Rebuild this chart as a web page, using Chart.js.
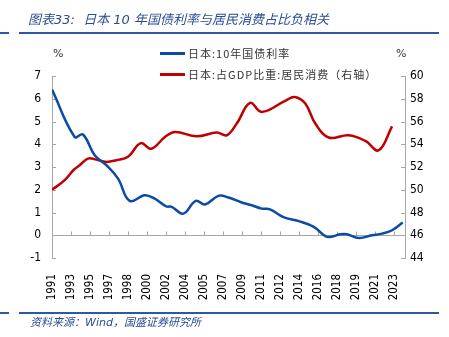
<!DOCTYPE html>
<html>
<head>
<meta charset="utf-8">
<script src="https://cdn.jsdelivr.net/npm/chart.js@4.4.1/dist/chart.umd.min.js"></script>
<style>
  body { margin: 0; background: #fff; }
  #wrap { position: relative; width: 449px; height: 337px; overflow: hidden; font-family: "DejaVu Sans", "Noto Sans CJK SC", sans-serif; }
  #chart { position: absolute; left: 0; top: 0; }
  .rule { position: absolute; height: 2px; background: #2f58a4; }
  .title { position: absolute; left: 28px; top: 11px; line-height: 18px; font-size: 13px; font-style: italic; color: #2b4c94; white-space: nowrap; }
  .source { position: absolute; left: 30px; top: 314px; line-height: 18px; font-size: 11px; font-style: italic; color: #2b4c94; white-space: nowrap; }
  .lg { position: absolute; left: 160px; width: 190px; height: 16px; }
  .lg .ln { position: absolute; left: 0; top: 7px; width: 25px; height: 3px; }
  .lg .tx { position: absolute; left: 28px; top: 0; line-height: 16px; font-size: 11px; letter-spacing: 1px; color: #333; white-space: nowrap; font-family: "Noto Sans CJK SC", "DejaVu Sans", sans-serif; }
  .unit { position: absolute; top: 46px; font-size: 11px; line-height: 16px; color: #333; }
</style>
</head>
<body>
<div id="wrap">
  <canvas id="chart" width="449" height="337"></canvas>
  <div class="title">图表33:&nbsp; 日本 10 年国债利率与居民消费占比负相关</div>
  <div class="rule" style="left:0;width:9px;top:32px"></div>
  <div class="rule" style="left:19px;width:420px;top:32px"></div>
  <div class="lg" style="top:45px"><div class="ln" style="background:#0b4ba5"></div><div class="tx">日本:10年国债利率</div></div>
  <div class="lg" style="top:66px;width:260px"><div class="ln" style="background:#c00000"></div><div class="tx">日本:占GDP比重:居民消费（右轴）</div></div>
  <div class="unit" style="left:53px">%</div>
  <div class="unit" style="left:396px">%</div>
  <div class="rule" style="left:0;width:9px;top:312px"></div>
  <div class="rule" style="left:19px;width:420px;top:312px"></div>
  <div class="source">资料来源：Wind，国盛证券研究所</div>
</div>
<script>
// x tick labels (one every 21 months, Excel style)
const xLabels = ['1991', '1993', '1995', '1997', '1998', '2000', '2002', '2004', '2005', '2007',
                 '2009', '2011', '2012', '2014', '2016', '2018', '2019', '2021', '2023'];
const xStart = 1991.75;
const xStep = 1.75;
const xEnd = 2024.25;

// Japan 10y government bond yield, %
const bondYears = [1991.75, 1993.84, 1994.6, 1995.68, 1996.75, 1997.83, 1998.9, 2000.29, 2001.21, 2002.27,
                   2002.77, 2003.84, 2004.98, 2005.84, 2007.06, 2007.98, 2009.22, 2010.14, 2011.06, 2011.82,
                   2013.05, 2014.47, 2015.85, 2017.07, 2018.3, 2018.91, 2019.99, 2021.22, 2022.14, 2023.06, 2024.04];
const bondYield = [6.40, 4.32, 4.43, 3.52, 3.08, 2.49, 1.51, 1.76, 1.61, 1.27,
                   1.25, 0.95, 1.51, 1.35, 1.73, 1.66, 1.44, 1.32, 1.17, 1.14,
                   0.80, 0.62, 0.37, -0.07, 0.04, 0.04, -0.12, 0.00, 0.07, 0.22, 0.56];

// Japan household consumption share of GDP, % (right axis)
const consYears = [1991.75, 1992.92, 1993.78, 1994.3, 1995.06, 1995.83, 1996.75, 1997.67, 1998.75, 1999.92,
                   2000.89, 2002.15, 2003.08, 2005.07, 2006.92, 2007.84, 2008.76, 2009.98, 2011.06, 2013.21,
                   2014.1, 2015.07, 2015.99, 2017.22, 2019.07, 2020.6, 2021.83, 2023.06];
const consShare = [50.0, 50.84, 51.78, 52.15, 52.74, 52.65, 52.45, 52.6, 52.9, 54.1,
                   53.6, 54.64, 55.08, 54.7, 55.03, 54.79, 55.82, 57.63, 56.84, 57.81,
                   58.16, 57.58, 55.82, 54.59, 54.79, 54.29, 53.47, 55.58];

const axisColor = '#a6a6a6';
const tickFont = { family: 'DejaVu Sans Condensed', size: 12 };

// zero line and inward tick marks
const axisMarks = {
    id: 'axisMarks',
    beforeDatasetsDraw(chart) {
        const ctx = chart.ctx;
        const x = chart.scales.x, yl = chart.scales.y, yr = chart.scales.y1;
        const zero = Math.round(yl.getPixelForValue(0)) + 0.5;
        ctx.save();
        ctx.strokeStyle = axisColor;
        ctx.lineWidth = 1;
        ctx.beginPath();
        ctx.moveTo(x.left, zero);
        ctx.lineTo(x.right, zero);
        x.ticks.forEach(t => {
            const px = Math.round(x.getPixelForValue(t.value)) + 0.5;
            ctx.moveTo(px, zero);
            ctx.lineTo(px, zero - 4);
        });
        yl.ticks.forEach(t => {
            const py = Math.round(yl.getPixelForValue(t.value)) + 0.5;
            ctx.moveTo(x.left, py);
            ctx.lineTo(x.left + 4, py);
        });
        yr.ticks.forEach(t => {
            const py = Math.round(yr.getPixelForValue(t.value)) + 0.5;
            ctx.moveTo(x.right, py);
            ctx.lineTo(x.right - 4, py);
        });
        ctx.stroke();
        ctx.restore();
    }
};

new Chart(document.getElementById('chart'), {
    type: 'line',
    data: {
        datasets: [
            {
                label: '日本:10年国债利率',
                data: bondYears.map((v, i) => ({ x: v, y: bondYield[i] })),
                borderColor: '#0b4ba5',
                borderWidth: 2.5,
                pointRadius: 0,
                tension: 0.4,
                yAxisID: 'y'
            },
            {
                label: '日本:占GDP比重:居民消费（右轴）',
                data: consYears.map((v, i) => ({ x: v, y: consShare[i] })),
                borderColor: '#c00000',
                borderWidth: 2.5,
                pointRadius: 0,
                tension: 0.4,
                yAxisID: 'y1'
            }
        ]
    },
    options: {
        responsive: false,
        animation: false,
        layout: { padding: { top: 76, left: 0, right: 0, bottom: 0 } },
        plugins: { legend: { display: false }, tooltip: { enabled: false } },
        scales: {
            x: {
                type: 'linear',
                min: xStart,
                max: xEnd,
                afterBuildTicks: s => { s.ticks = xLabels.map((l, i) => ({ value: xStart + i * xStep })); },
                afterFit: s => { s.height = 79; },
                grid: { display: false },
                border: { display: false },
                ticks: {
                    autoSkip: false,
                    minRotation: 90,
                    maxRotation: 90,
                    padding: 8,
                    color: '#000',
                    font: { family: 'DejaVu Sans Condensed', size: 11.5 },
                    callback: (v, i) => xLabels[i]
                }
            },
            y: {
                position: 'left',
                min: -1,
                max: 7,
                afterFit: s => { s.width = 52; },
                grid: { drawOnChartArea: false, drawTicks: false },
                border: { color: axisColor },
                ticks: { stepSize: 1, padding: 11, color: '#000', font: tickFont }
            },
            y1: {
                position: 'right',
                min: 44,
                max: 60,
                afterFit: s => { s.width = 44; },
                grid: { drawOnChartArea: false, drawTicks: false },
                border: { color: axisColor },
                ticks: { stepSize: 2, padding: 5, color: '#000', font: tickFont }
            }
        }
    },
    plugins: [axisMarks]
});
</script>
</body>
</html>
